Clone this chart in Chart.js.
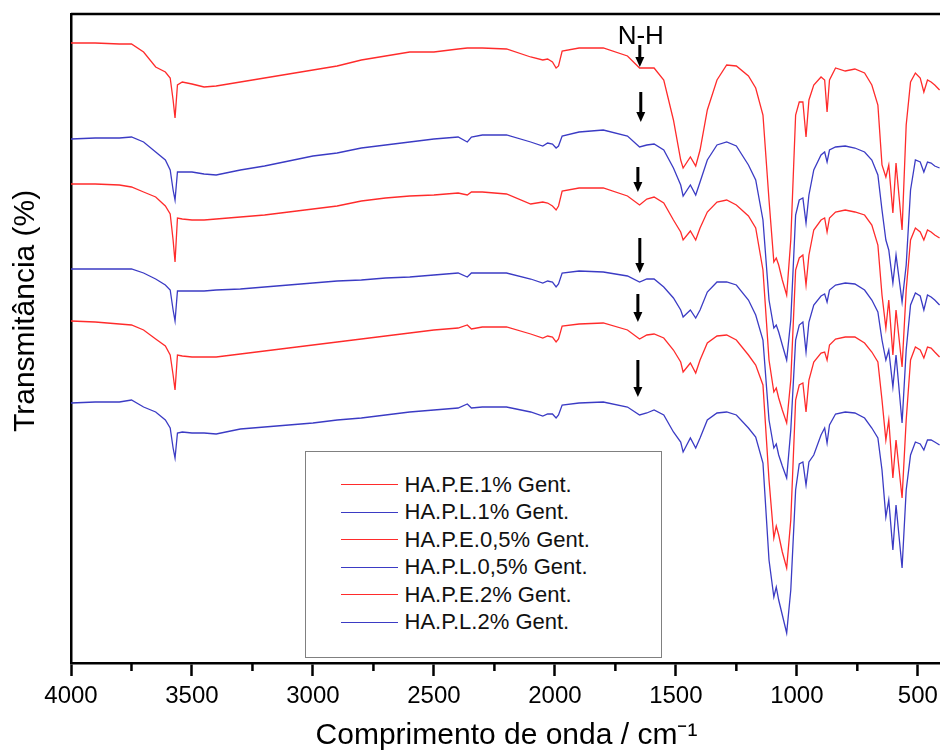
<!DOCTYPE html>
<html lang="pt">
<head>
    <meta charset="UTF-8">
    <title>FTIR - HA.P Gent.</title>
    <script src="https://cdn.jsdelivr.net/npm/chart.js"></script>
    <style>
        body {
            margin: 0;
            overflow: hidden;
            background: #fff;
            font-family: "Liberation Sans", Arial, sans-serif;
        }

        #wrap {
            position: relative;
            width: 950px;
            height: 751px;
        }

        canvas {
            display: block;
        }

        #legend {
            position: absolute;
            left: 305px;
            top: 451px;
            width: 357px;
            height: 207px;
            box-sizing: border-box;
            border: 1.5px solid #808080;
            background: #fff;
            padding-top: 19px;
        }

        .item {
            height: 27.5px;
            display: flex;
            align-items: center;
            font-size: 22px;
            color: #111;
        }

        .swatch {
            width: 57px;
            height: 0;
            border-top: 1.5px solid;
            margin-left: 34.5px;
            margin-right: 7px;
        }
    </style>
</head>
<body>
    <div id="wrap">
        <canvas id="ftirChart" width="950" height="751"></canvas>
        <div id="legend"></div>
    </div>

    <script>
        // numero de onda (cm-1)
        const wavenumbers = [
            4000, 3900, 3800, 3750, 3700, 3650, 3610, 3590, 3578, 3570,
            3560, 3540, 3500, 3450, 3400, 3300, 3200, 3100, 3000, 2900,
            2800, 2700, 2600, 2500, 2400, 2362, 2345, 2300, 2200, 2100,
            2050, 2030, 2010, 1995, 1985, 1970, 1900, 1800, 1700, 1650,
            1620, 1590, 1550, 1510, 1480, 1470, 1440, 1418, 1400, 1370,
            1330, 1290, 1250, 1200, 1170, 1140, 1115, 1095, 1085, 1075,
            1060, 1042, 1025, 1005, 990, 975, 962, 950, 930, 900,
            885, 875, 865, 840, 800, 760, 720, 690, 665, 648,
            632, 620, 603, 590, 565, 548, 530, 510, 490, 475,
            460, 445, 430, 410
        ];

        // transmitancia (u.a., curvas deslocadas)
        const hapE1 = [
            620, 620, 619, 619, 611, 596, 591, 585, 563, 545,
            578, 581, 579, 576, 577, 581, 585, 589, 593, 597,
            603, 607, 611, 611, 614, 615, 615, 615, 614, 606,
            603, 604, 601, 595, 597, 612, 615, 615, 607, 595,
            595, 595, 583, 543, 503, 495, 506, 497, 513, 553,
            583, 598, 597, 587, 575, 548, 463, 401, 405, 398,
            383, 368, 423, 548, 561, 561, 526, 563, 578, 586,
            583, 551, 583, 595, 592, 594, 590, 578, 558, 498,
            486, 498, 450, 500, 433, 538, 581, 590, 585, 571,
            583, 581, 578, 573
        ];
        const hapL1 = [
            524, 525, 525, 526, 521, 511, 503, 493, 473, 463,
            491, 491, 491, 489, 488, 493, 497, 502, 507, 510,
            515, 518, 521, 524, 526, 521, 526, 528, 528, 521,
            517, 520, 519, 515, 517, 527, 531, 533, 527, 516,
            518, 519, 513, 495, 478, 467, 478, 468, 481, 503,
            518, 521, 517, 498, 483, 443, 363, 335, 338, 331,
            318, 303, 343, 448, 463, 465, 440, 468, 493, 508,
            511, 501, 513, 516, 517, 515, 511, 503, 488, 453,
            423, 413, 380, 408, 361, 398, 473, 503, 501, 491,
            501, 500, 497, 495
        ];
        const hapE05 = [
            479, 479, 478, 476, 471, 466, 457, 449, 423, 401,
            445, 444, 443, 443, 444, 446, 448, 451, 454, 457,
            462, 465, 467, 468, 470, 468, 471, 471, 469, 459,
            461, 460, 457, 453, 457, 472, 475, 475, 467, 458,
            464, 466, 460, 443, 431, 423, 432, 423, 435, 451,
            461, 463, 458, 447, 435, 393, 303, 271, 275, 265,
            253, 240, 283, 393, 405, 408, 378, 408, 433, 443,
            445, 431, 445, 451, 453, 451, 448, 438, 418, 368,
            335, 363, 308, 353, 296, 373, 423, 435, 431, 423,
            433, 431, 428, 425
        ];
        const hapL05 = [
            394, 394, 394, 394, 390, 384, 378, 373, 353, 342,
            372, 372, 372, 372, 373, 374, 376, 378, 380, 382,
            383, 385, 386, 388, 390, 386, 390, 390, 390, 384,
            380, 382, 381, 376, 379, 390, 392, 391, 387, 381,
            384, 384, 376, 365, 353, 346, 353, 345, 353, 371,
            381, 381, 378, 363, 348, 323, 243, 215, 219, 208,
            197, 185, 233, 323, 338, 341, 311, 341, 358, 367,
            369, 361, 373, 378, 380, 379, 373, 363, 351, 323,
            303, 313, 276, 308, 240, 313, 358, 370, 367, 353,
            368, 366, 363, 358
        ];
        const hapE2 = [
            342, 341, 339, 338, 333, 324, 317, 308, 288, 273,
            308, 307, 306, 306, 306, 309, 312, 315, 318, 321,
            324, 327, 330, 333, 335, 338, 334, 336, 336, 329,
            325, 327, 326, 321, 324, 337, 339, 340, 333, 324,
            328, 329, 325, 313, 301, 291, 300, 290, 303, 320,
            327, 328, 323, 308, 298, 278, 183, 125, 137, 128,
            111, 95, 143, 263, 278, 280, 251, 283, 301, 310,
            311, 303, 318, 324, 326, 326, 320, 311, 301, 263,
            223, 243, 185, 223, 165, 243, 303, 316, 313, 305,
            316, 315, 311, 306
        ];
        const hapL2 = [
            260, 261, 261, 263, 256, 251, 243, 235, 215, 205,
            230, 231, 230, 230, 229, 234, 236, 238, 240, 243,
            245, 248, 251, 253, 255, 259, 255, 256, 256, 251,
            247, 249, 249, 245, 248, 258, 260, 261, 256, 248,
            250, 253, 248, 231, 221, 211, 225, 215, 225, 243,
            250, 251, 248, 235, 226, 200, 103, 66, 76, 63,
            48, 30, 73, 173, 199, 201, 178, 201, 208, 228,
            235, 220, 238, 249, 251, 250, 245, 235, 225, 193,
            146, 163, 113, 158, 95, 173, 208, 221, 219, 213,
            223, 223, 221, 218
        ];

        const seriesNames = [
            'HA.P.E.1% Gent.', 'HA.P.L.1% Gent.', 'HA.P.E.0,5% Gent.',
            'HA.P.L.0,5% Gent.', 'HA.P.E.2% Gent.', 'HA.P.L.2% Gent.'
        ];
        const seriesValues = [hapE1, hapL1, hapE05, hapL05, hapE2, hapL2];

        const xTicks = [4000, 3500, 3000, 2500, 2000, 1500, 1000, 500];
        const xMinorTicks = [3750, 3250, 2750, 2250, 1750, 1250, 750];

        // setas N-H: posicao (cm-1), topo e ponta (u.a.)
        const arrowWn = [1649, 1645, 1657, 1649, 1657, 1657];
        const arrowTop = [618, 571, 496, 425, 369, 303];
        const arrowTip = [596, 541, 471, 390, 341, 266];

        const RED = '#ff2b2b';
        const BLUE = '#3b3bc4';
        const FONT = '"Liberation Sans", Arial, sans-serif';

        Chart.defaults.font.family = FONT;

        const extras = {
            id: 'extras',
            afterDraw(chart) {
                const {ctx, chartArea, scales: {x, y}} = chart;
                ctx.save();

                // moldura superior / direita
                ctx.strokeStyle = '#000';
                ctx.lineWidth = 2.5;
                ctx.beginPath();
                ctx.moveTo(chartArea.left, chartArea.top);
                ctx.lineTo(chartArea.right, chartArea.top);
                ctx.lineTo(chartArea.right, chartArea.bottom);
                ctx.stroke();

                // ticks menores
                ctx.beginPath();
                xMinorTicks.forEach(v => {
                    const px = x.getPixelForValue(v);
                    ctx.moveTo(px, chartArea.bottom);
                    ctx.lineTo(px, chartArea.bottom + 8);
                });
                ctx.stroke();

                // setas
                ctx.fillStyle = '#000';
                ctx.lineWidth = 3;
                arrowWn.forEach((w, i) => {
                    const px = x.getPixelForValue(w);
                    const y0 = y.getPixelForValue(arrowTop[i]);
                    const y1 = y.getPixelForValue(arrowTip[i]);
                    ctx.beginPath();
                    ctx.moveTo(px, y0);
                    ctx.lineTo(px, y1 - 8);
                    ctx.stroke();
                    ctx.beginPath();
                    ctx.moveTo(px - 4.5, y1 - 10);
                    ctx.lineTo(px + 4.5, y1 - 10);
                    ctx.lineTo(px, y1);
                    ctx.closePath();
                    ctx.fill();
                });

                // rotulo N-H
                ctx.font = '26px ' + FONT;
                ctx.textAlign = 'center';
                ctx.textBaseline = 'alphabetic';
                ctx.fillText('N-H', x.getPixelForValue(1645), y.getPixelForValue(619));

                // titulo do eixo y
                ctx.font = '30px ' + FONT;
                ctx.translate(34, 432);
                ctx.rotate(-Math.PI / 2);
                ctx.textAlign = 'left';
                ctx.fillText('Transmitância (%)', 0, 0);

                ctx.restore();
            }
        };

        const ctx = document.getElementById('ftirChart').getContext('2d');
        const ftirChart = new Chart(ctx, {
            type: 'line',
            data: {
                datasets: seriesValues.map((vals, i) => ({
                    label: seriesNames[i],
                    data: wavenumbers.map((w, j) => ({x: w, y: vals[j]})),
                    borderColor: i % 2 === 0 ? RED : BLUE,
                    borderWidth: 1.3,
                    pointRadius: 0,
                    tension: 0
                }))
            },
            options: {
                responsive: false,
                animation: false,
                layout: {
                    padding: {top: 14, right: 8, left: 0, bottom: 0}
                },
                plugins: {
                    legend: {display: false},
                    tooltip: {enabled: false}
                },
                scales: {
                    x: {
                        type: 'linear',
                        reverse: true,
                        min: 400,
                        max: 4000,
                        afterBuildTicks: axis => {
                            axis.ticks = xTicks.map(v => ({value: v}));
                        },
                        afterFit: axis => {
                            axis.height = 88;
                        },
                        ticks: {
                            color: '#000',
                            font: {size: 24},
                            padding: 6,
                            maxRotation: 0,
                            autoSkip: false,
                            callback: v => String(v)
                        },
                        grid: {
                            drawOnChartArea: false,
                            tickLength: 13,
                            tickWidth: 2.5,
                            tickColor: '#000'
                        },
                        border: {color: '#000', width: 2.5},
                        title: {
                            display: true,
                            text: 'Comprimento de onda / cm⁻¹',
                            color: '#000',
                            font: {size: 30, lineHeight: 1},
                            padding: {top: 0, bottom: 0}
                        }
                    },
                    y: {
                        min: 0,
                        max: 649,
                        afterFit: axis => {
                            axis.width = 71;
                        },
                        ticks: {display: false},
                        grid: {display: false},
                        border: {color: '#000', width: 2.5}
                    }
                }
            },
            plugins: [extras]
        });

        // legenda
        const legend = document.getElementById('legend');
        ftirChart.data.datasets.forEach(ds => {
            const item = document.createElement('div');
            item.className = 'item';
            const sw = document.createElement('span');
            sw.className = 'swatch';
            sw.style.borderColor = ds.borderColor;
            const txt = document.createElement('span');
            txt.textContent = ds.label;
            item.appendChild(sw);
            item.appendChild(txt);
            legend.appendChild(item);
        });
    </script>
</body>
</html>
